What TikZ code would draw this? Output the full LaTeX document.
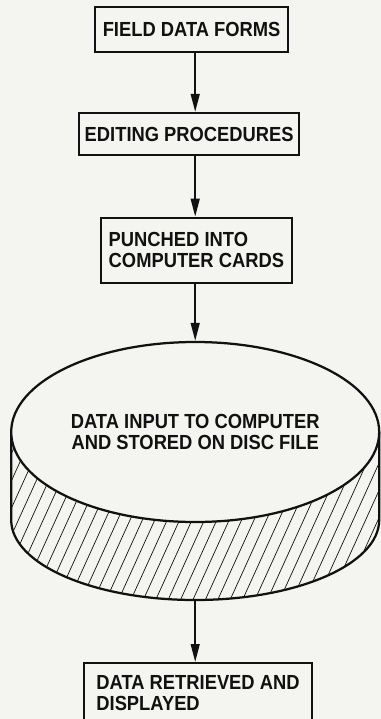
\documentclass[tikz,border=0pt]{standalone}
\usepackage{fontspec}
\setmainfont{Liberation Sans}[FakeStretch=0.9]
\usetikzlibrary{arrows.meta,positioning,calc,shapes.geometric}
\definecolor{ink}{HTML}{111111}
\definecolor{paper}{HTML}{F4F4F1}
\tikzset{
  every node/.style={font=\fontsize{14.5}{15}\selectfont\bfseries, text=ink},
  box/.style={draw=ink, line width=1.6pt, align=left, inner sep=4pt},
  arr/.style={-{Triangle[length=4.5mm,width=2.2mm]}, draw=ink, line width=1.4pt},
  outline/.style={draw=ink, line width=1.6pt},
  hatch/.style={draw=ink, line width=0.5pt},
}

\begin{document}
\begin{tikzpicture}
  \fill[paper] (0,0) rectangle (9.525,-17.975);
  \useasboundingbox (0,0) rectangle (9.525,-17.975);

  \node[box, minimum width=4.83cm, minimum height=1.13cm] (field) at (4.79,-0.74) {FIELD DATA FORMS};
  \node[box, minimum width=4.65cm, minimum height=1.05cm] (edit) at (4.73,-3.35) {EDITING PROCEDURES};
  \node[box, minimum width=4.78cm, minimum height=1.63cm] (punch) at (4.91,-6.26) {PUNCHED INTO\\COMPUTER CARDS};

  % disc file: hatched side band first, then the top face
  \begin{scope}
    \clip (0.28,-10.8) -- (0.28,-13.0) arc[start angle=180, end angle=360, x radius=4.6, y radius=2.0]
      -- (9.48,-10.8) arc[start angle=0, end angle=-180, x radius=4.6, y radius=2.25] -- cycle;
    \foreach \i in {0,...,38}
      \draw[hatch] (\i*0.31-2.4,-15.2) -- ++(2.5,5.5);
  \end{scope}
  \draw[outline] (0.28,-10.8) -- (0.28,-13.0) arc[start angle=180, end angle=360, x radius=4.6, y radius=2.0] -- (9.48,-10.8);
  \node[ellipse, outline, fill=paper, minimum width=9.2cm, minimum height=4.5cm, inner sep=0pt, align=center] (disc) at (4.88,-10.8) {DATA INPUT TO COMPUTER\\AND STORED ON DISC FILE};
  \coordinate (discbase) at (4.88,-15.0);

  \node[box, anchor=north, minimum width=5.7cm, minimum height=1.5cm] (show) at (4.95,-16.55) {DATA RETRIEVED AND\\DISPLAYED};

  \draw[arr] (field.south -| disc.north) -- (edit.north -| disc.north);
  \draw[arr] (edit.south -| disc.north) -- (punch.north -| disc.north);
  \draw[arr] (punch.south -| disc.north) -- (disc.north);
  \draw[arr] (discbase) -- (show.north -| discbase);
\end{tikzpicture}
\end{document}
